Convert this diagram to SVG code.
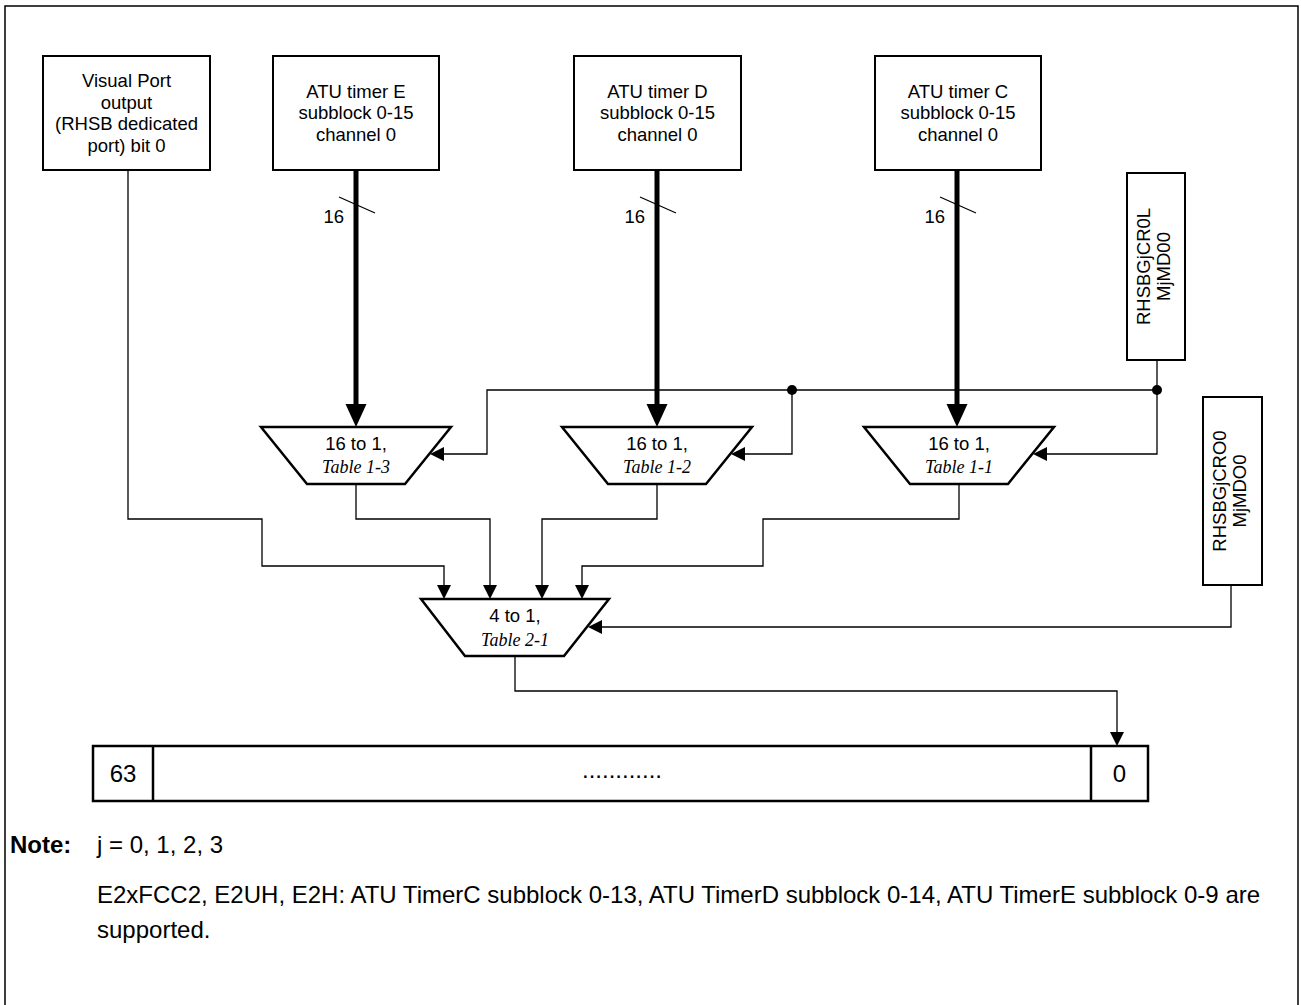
<svg xmlns="http://www.w3.org/2000/svg" width="1301" height="1005" viewBox="0 0 1301 1005">
<style>
  .box { fill: #fff; stroke: #000; stroke-width: 2; }
  .mux { fill: #fff; stroke: #000; stroke-width: 2.5; }
  .t { font-family: "Liberation Sans", Arial, sans-serif; font-size: 18.5px; fill: #000; text-anchor: middle; }
  .ti { font-family: "Liberation Serif", "Times New Roman", serif; font-style: italic; font-size: 18px; fill: #000; text-anchor: middle; }
  .w { fill: none; stroke: #000; stroke-width: 1.3; }
  .thick { fill: none; stroke: #000; stroke-width: 5; }
  .ah { fill: #000; stroke: none; }
  .note { font-family: "Liberation Sans", Arial, sans-serif; font-size: 24px; fill: #000; }
  .reg { font-family: "Liberation Sans", Arial, sans-serif; font-size: 24px; fill: #000; text-anchor: middle; }
</style>
<rect x="0" y="0" width="1301" height="1005" fill="#fff"/>
<rect x="5" y="6" width="1293" height="1030" fill="none" stroke="#000" stroke-width="1.5"/>

<g id="connectors">
  <!-- thick bus lines -->
  <path class="thick" d="M356,170 V406"/>
  <path class="thick" d="M657,170 V406"/>
  <path class="thick" d="M957,170 V406"/>
  <polygon class="ah" points="345.5,404 366.5,404 356,427"/>
  <polygon class="ah" points="646.5,404 667.5,404 657,427"/>
  <polygon class="ah" points="946.5,404 967.5,404 957,427"/>
  <!-- bus width slashes -->
  <path class="w" d="M339,197 L375,213"/>
  <path class="w" d="M640,197 L676,213"/>
  <path class="w" d="M940,197 L976,213"/>
  <text class="t" x="344" y="222.5" style="text-anchor:end">16</text>
  <text class="t" x="645" y="222.5" style="text-anchor:end">16</text>
  <text class="t" x="945" y="222.5" style="text-anchor:end">16</text>

  <!-- select line for 16-to-1 muxes -->
  <path class="w" d="M1157,360 V454 H1046"/>
  <polygon class="ah" points="1047,447 1047,461 1033,454"/>
  <path class="w" d="M1157,390 H487 V454 H444"/>
  <polygon class="ah" points="444,447 444,461 430,454"/>
  <path class="w" d="M792,390 V454 H745"/>
  <polygon class="ah" points="745,447 745,461 731,454"/>
  <circle cx="792" cy="390" r="5" fill="#000"/>
  <circle cx="1157" cy="390" r="5" fill="#000"/>

  <!-- inputs to 4-to-1 mux -->
  <path class="w" d="M128,170 V519 H262 V566 H444 V586"/>
  <polygon class="ah" points="437,585 451,585 444,599"/>
  <path class="w" d="M356,484 V519 H490 V586"/>
  <polygon class="ah" points="483,585 497,585 490,599"/>
  <path class="w" d="M657,484 V519 H542 V586"/>
  <polygon class="ah" points="535,585 549,585 542,599"/>
  <path class="w" d="M959,484 V519 H763 V566 H582 V586"/>
  <polygon class="ah" points="575,585 589,585 582,599"/>
  <path class="w" d="M1231,585 V627 H601"/>
  <polygon class="ah" points="602,620 602,634 588,627"/>

  <!-- output -->
  <path class="w" d="M515,656 V691 H1117 V733"/>
  <polygon class="ah" points="1110,732 1124,732 1117,746"/>
</g>

<g id="node-vp">
  <rect class="box" x="43" y="56" width="167" height="114"/>
  <text class="t" x="126.5" y="87">Visual Port</text>
  <text class="t" x="126.5" y="108.5">output</text>
  <text class="t" x="126.5" y="130">(RHSB dedicated</text>
  <text class="t" x="126.5" y="151.5">port) bit 0</text>
</g>
<g id="node-atu-e">
  <rect class="box" x="273" y="56" width="166" height="114"/>
  <text class="t" x="356" y="97.5">ATU timer E</text>
  <text class="t" x="356" y="119">subblock 0-15</text>
  <text class="t" x="356" y="140.5">channel 0</text>
</g>
<g id="node-atu-d">
  <rect class="box" x="574" y="56" width="167" height="114"/>
  <text class="t" x="657.5" y="97.5">ATU timer D</text>
  <text class="t" x="657.5" y="119">subblock 0-15</text>
  <text class="t" x="657.5" y="140.5">channel 0</text>
</g>
<g id="node-atu-c">
  <rect class="box" x="875" y="56" width="166" height="114"/>
  <text class="t" x="958" y="97.5">ATU timer C</text>
  <text class="t" x="958" y="119">subblock 0-15</text>
  <text class="t" x="958" y="140.5">channel 0</text>
</g>
<g id="node-reg-l">
  <rect class="box" x="1127" y="173" width="58" height="187"/>
  <text class="t" transform="translate(1150,266.5) rotate(-90)">RHSBGjCR0L</text>
  <text class="t" transform="translate(1169.5,266.5) rotate(-90)">MjMD00</text>
</g>
<g id="node-reg-0">
  <rect class="box" x="1203" y="397" width="59" height="188"/>
  <text class="t" transform="translate(1226,491) rotate(-90)">RHSBGjCRO0</text>
  <text class="t" transform="translate(1245.5,491) rotate(-90)">MjMDO0</text>
</g>

<g id="node-mux-e">
  <polygon class="mux" points="261,427 451,427 405,484 307,484"/>
  <text class="t" x="356" y="449.5">16 to 1,</text>
  <text class="ti" x="356" y="473">Table 1-3</text>
</g>
<g id="node-mux-d">
  <polygon class="mux" points="562,427 752,427 706,484 608,484"/>
  <text class="t" x="657" y="449.5">16 to 1,</text>
  <text class="ti" x="657" y="473">Table 1-2</text>
</g>
<g id="node-mux-c">
  <polygon class="mux" points="864,427 1054,427 1008,484 910,484"/>
  <text class="t" x="959" y="449.5">16 to 1,</text>
  <text class="ti" x="959" y="473">Table 1-1</text>
</g>
<g id="node-mux-4">
  <polygon class="mux" points="421,599 609,599 564,656 465,656"/>
  <text class="t" x="515" y="621.5">4 to 1,</text>
  <text class="ti" x="515" y="646">Table 2-1</text>
</g>

<g id="node-register">
  <rect class="box" x="93" y="746" width="1055" height="55" style="stroke-width:2.5"/>
  <line x1="153" y1="746" x2="153" y2="801" stroke="#000" stroke-width="2.5"/>
  <line x1="1091" y1="746" x2="1091" y2="801" stroke="#000" stroke-width="2.5"/>
  <text class="reg" x="123" y="782">63</text>
  <text class="reg" x="622" y="778">............</text>
  <text class="reg" x="1119.5" y="782">0</text>
</g>

<g id="notes">
  <text class="note" x="10" y="853" style="font-weight:bold">Note:</text>
  <text class="note" x="97" y="853">j = 0, 1, 2, 3</text>
  <text class="note" x="97" y="903">E2xFCC2, E2UH, E2H: ATU TimerC subblock 0-13, ATU TimerD subblock 0-14, ATU TimerE subblock 0-9 are</text>
  <text class="note" x="97" y="938">supported.</text>
</g>
</svg>
